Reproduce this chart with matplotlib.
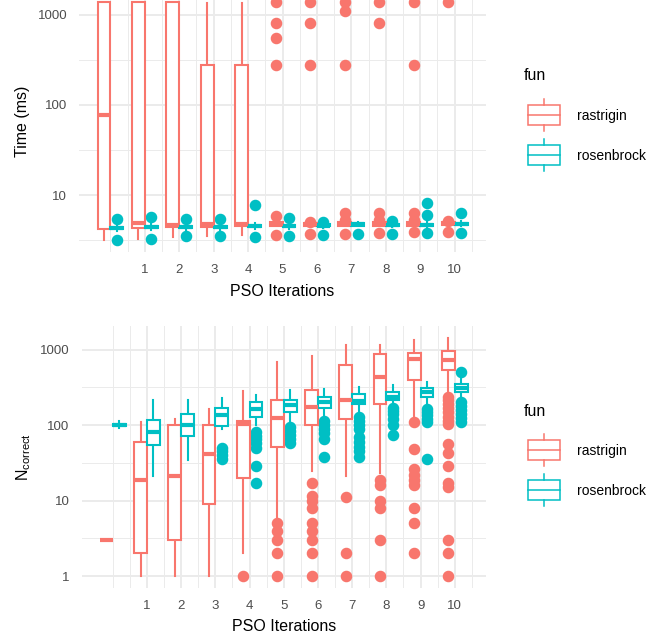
import numpy as np
import matplotlib
matplotlib.use('Agg')
import matplotlib.pyplot as plt
from matplotlib.ticker import FixedLocator, FixedFormatter, NullFormatter
from matplotlib.patches import Rectangle

plt.rcParams['font.family'] = ['Liberation Sans', 'DejaVu Sans']
plt.rcParams['mathtext.default'] = 'regular'

W, H = 659, 637
C_RAST = '#F8766D'
C_ROSE = '#00BFC4'
GRID = '#EBEBEB'
TICK_COL = '#4D4D4D'

iterations = list(range(11))
x_breaks = list(range(1, 11))
funs = ['rastrigin', 'rosenbrock']

# ---- Time (ms): box statistics per PSO iteration (0..10) ----
rast_time_lo = [3.2, 3.3, 3.4, 3.5, 3.6, 4.5, 4.5, 4.5, 4.5, 4.5, 4.6]
rast_time_q1 = [4.2, 4.35, 4.45, 4.45, 4.5, 4.6, 4.6, 4.6, 4.6, 4.6, 4.7]
rast_time_med = [78, 4.9, 4.7, 4.75, 4.8, 4.8, 4.75, 4.8, 4.8, 4.8, 4.9]
rast_time_q3 = [1370, 1370, 1370, 278, 278, 5.0, 4.9, 5.0, 5.0, 5.0, 5.1]
rast_time_hi = [1400, 1400, 1400, 1350, 1350, 5.2, 5.1, 5.2, 5.2, 5.2, 5.2]
rast_time_out = [[], [], [], [], [],
                 [5.8, 3.6, 278, 551, 820, 1370],
                 [5.0, 3.7, 278, 820, 1370],
                 [6.3, 5.3, 3.7, 278, 1090, 1400],
                 [6.3, 5.3, 3.8, 820, 1370],
                 [6.3, 5.3, 3.9, 278, 1370],
                 [5.2, 3.9, 1370]]

rose_time_lo = [4.0, 4.1, 4.1, 4.1, 4.2, 4.2, 4.3, 4.5, 4.4, 4.4, 4.5]
rose_time_q1 = [4.2, 4.3, 4.3, 4.3, 4.4, 4.4, 4.5, 4.6, 4.6, 4.6, 4.7]
rose_time_med = [4.3, 4.4, 4.4, 4.4, 4.5, 4.5, 4.6, 4.75, 4.7, 4.7, 4.8]
rose_time_q3 = [4.45, 4.55, 4.55, 4.55, 4.65, 4.65, 4.75, 4.9, 4.85, 4.85, 4.95]
rose_time_hi = [4.7, 4.8, 4.8, 4.8, 4.9, 4.9, 4.9, 5.0, 5.0, 5.1, 5.2]
rose_time_out = [[5.5, 3.2], [5.7, 3.3], [5.5, 3.5], [5.5, 3.5],
                 [7.7, 3.4], [5.6, 3.5], [5.0, 3.6], [3.7],
                 [5.2, 3.7], [8.2, 6.0, 3.8], [6.3, 3.8]]

# ---- N correct: box statistics per PSO iteration (0..10) ----
rast_n_lo = [3, 1, 1, 1, 2, 6, 25, 21, 23, 128, 250]
rast_n_q1 = [3, 2, 3, 9, 20, 51, 100, 122, 193, 392, 543]
rast_n_med = [3, 19, 21, 41, 103, 126, 172, 213, 433, 750, 730]
rast_n_q3 = [3, 60, 100, 100, 114, 213, 290, 620, 884, 900, 955]
rast_n_hi = [3, 110, 122, 165, 280, 685, 838, 1140, 1140, 1340, 1420]
rast_n_out = [[], [], [], [], [1],
              [5, 4, 3, 2, 1],
              [17, 11.5, 10, 8, 5, 4, 3, 2, 1],
              [11, 2, 1],
              [19, 16, 10, 8, 3, 1],
              [110, 48, 26, 22, 19, 16, 8, 5, 2],
              [240, 215, 190, 170, 150, 130, 115, 105, 57, 43, 29, 17, 15, 3, 2, 1]]

rose_n_lo = [92, 21, 35, 90, 100, 100, 128, 149, 180, 178, 240]
rose_n_q1 = [99, 54, 72, 98, 128, 149, 171, 193, 213, 240, 274]
rose_n_med = [101, 81, 102, 138, 165, 183, 205, 207, 240, 274, 310]
rose_n_q3 = [103, 118, 139, 167, 201, 217, 240, 256, 274, 316, 355]
rose_n_hi = [113, 213, 218, 232, 248, 290, 300, 318, 343, 372, 413]
rose_n_out = [[], [], [],
              [50, 45, 40, 36],
              [80, 72, 65, 58, 50, 29, 17],
              [95, 85, 75, 65, 58],
              [115, 100, 90, 78, 66, 38],
              [128, 115, 100, 90, 70, 60, 52, 45, 38],
              [170, 155, 140, 120, 100, 73],
              [165, 150, 135, 120, 110, 36],
              [505, 200, 180, 160, 140, 125, 110]]


def make_stats(lo, q1, med, q3, hi, out):
    return [dict(whislo=a, q1=b, med=c, q3=d, whishi=e, fliers=f)
            for a, b, c, d, e, f in zip(lo, q1, med, q3, hi, out)]


def log_limits(series):
    vals = []
    for s in series:
        vals += list(s['lo']) + list(s['hi'])
        for f in s['out']:
            vals += list(f)
    l0, l1 = np.log10(min(vals)), np.log10(max(vals))
    pad = 0.05 * (l1 - l0)
    return 10 ** (l0 - pad), 10 ** (l1 + pad)


def px_axes(fig, left, top, right, bottom):
    return fig.add_axes([left / W, 1 - bottom / H, (right - left) / W, (bottom - top) / H])


def draw_panel(ax, series, ylabels_at):
    dodge = 0.1875
    for s, color, off in zip(series, [C_RAST, C_ROSE], [-dodge, dodge]):
        stats = make_stats(s['lo'], s['q1'], s['med'], s['q3'], s['hi'], s['out'])
        ax.bxp(stats, positions=[i + off for i in iterations], widths=0.375,
               patch_artist=True, showcaps=False, manage_ticks=False,
               boxprops=dict(facecolor='white', edgecolor=color, linewidth=1.5, zorder=3),
               whiskerprops=dict(color=color, linewidth=1.5, zorder=2.5),
               medianprops=dict(color=color, linewidth=3, solid_capstyle='butt', zorder=3.5),
               flierprops=dict(marker='o', markerfacecolor=color, markeredgecolor=color,
                               markersize=7.3, linestyle='none', zorder=2))
    ax.set_yscale('log')
    ax.set_ylim(*log_limits(series))
    ax.set_xlim(-0.9125, 10.9125)
    ax.yaxis.set_major_locator(FixedLocator(ylabels_at))
    ax.yaxis.set_major_formatter(FixedFormatter([f'{v:g}' for v in ylabels_at]))
    ax.yaxis.set_minor_locator(FixedLocator([10 ** (k + 0.5) for k in range(-1, 4)]))
    ax.yaxis.set_minor_formatter(NullFormatter())
    ax.xaxis.set_major_locator(FixedLocator(x_breaks))
    ax.xaxis.set_major_formatter(FixedFormatter([str(b) for b in x_breaks]))
    ax.xaxis.set_minor_locator(FixedLocator([0] + [b + 0.5 for b in range(0, 11)]))
    ax.set_axisbelow(True)
    ax.grid(which='major', color=GRID, linewidth=1.4)
    ax.grid(which='minor', color=GRID, linewidth=0.7)
    ax.tick_params(which='both', length=0, labelsize=9.5, labelcolor=TICK_COL)
    ax.tick_params(axis='y', pad=8.5)
    ax.tick_params(axis='x', pad=9)
    for sp in ax.spines.values():
        sp.set_visible(False)


def draw_legend(fig, title_y, key_ys):
    fig.text(524 / W, 1 - title_y / H, 'fun', fontsize=11.5, va='center', ha='left')
    for name, color, cy in zip(funs, [C_RAST, C_ROSE], key_ys):
        kax = px_axes(fig, 528, cy - 16, 560, cy + 16)
        kax.set_xlim(0, 1)
        kax.set_ylim(0, 1)
        kax.axis('off')
        kax.add_patch(Rectangle((0.0, 0.19), 1.0, 0.62, facecolor='white',
                                edgecolor=color, linewidth=1.1, clip_on=False))
        kax.plot([0, 1], [0.5, 0.5], color=color, linewidth=1.1, clip_on=False)
        kax.plot([0.5, 0.5], [0, 0.19], color=color, linewidth=1.1, clip_on=False)
        kax.plot([0.5, 0.5], [0.81, 1], color=color, linewidth=1.1, clip_on=False)
        fig.text(577 / W, 1 - (cy + 1) / H, name, fontsize=10, va='center', ha='left')


fig = plt.figure(figsize=(W / 100, H / 100), dpi=100)
fig.patch.set_facecolor('white')

time_series = [dict(lo=rast_time_lo, q1=rast_time_q1, med=rast_time_med, q3=rast_time_q3,
                    hi=rast_time_hi, out=rast_time_out),
               dict(lo=rose_time_lo, q1=rose_time_q1, med=rose_time_med, q3=rose_time_q3,
                    hi=rose_time_hi, out=rose_time_out)]
n_series = [dict(lo=rast_n_lo, q1=rast_n_q1, med=rast_n_med, q3=rast_n_q3,
                 hi=rast_n_hi, out=rast_n_out),
            dict(lo=rose_n_lo, q1=rose_n_q1, med=rose_n_med, q3=rose_n_q3,
                 hi=rose_n_hi, out=rose_n_out)]

# top panel runs off the top edge of the picture (cropped original)
ax1 = px_axes(fig, 79, -10.3, 486, 251.7)
draw_panel(ax1, time_series, [10, 100, 1000])
ax2 = px_axes(fig, 81.5, 326.4, 486, 587.9)
draw_panel(ax2, n_series, [1, 10, 100, 1000])

fig.text(282.5 / W, 1 - 296 / H, 'PSO Iterations', fontsize=11.5, ha='center', va='baseline')
fig.text(284 / W, 1 - 631 / H, 'PSO Iterations', fontsize=11.5, ha='center', va='baseline')
fig.text(22.5 / W, 1 - 121 / H, 'Time (ms)', fontsize=11.5, rotation=90, ha='center', va='center')
fig.text(23.5 / W, 1 - 457 / H, r'N$_{correct}$', fontsize=11.5, rotation=90, ha='center', va='center')

draw_legend(fig, 75, [115, 155])
draw_legend(fig, 411, [450, 490])

fig.savefig('out.png', dpi=100, facecolor='white')
plt.close(fig)
